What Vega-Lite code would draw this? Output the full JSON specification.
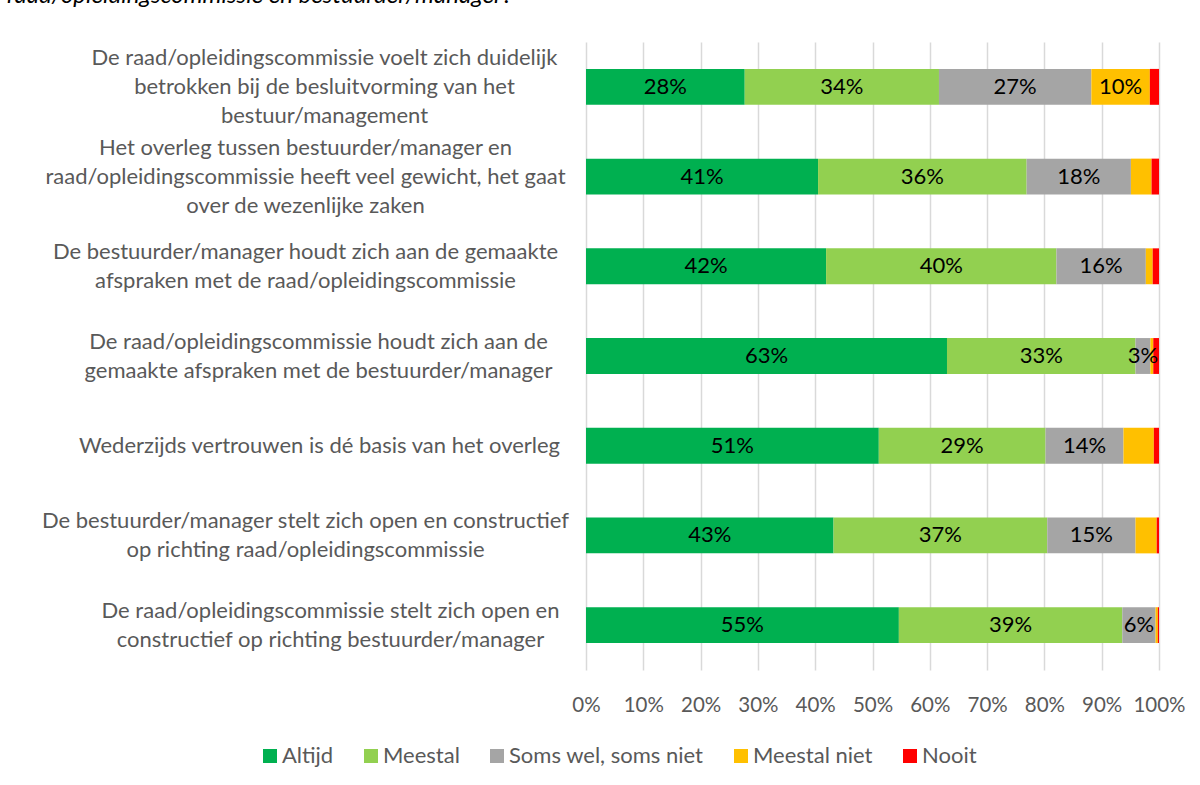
{
  "$schema": "https://vega.github.io/schema/vega-lite/v6.json",
  "width": 573,
  "height": 628,
  "autosize": {"type": "none"},
  "padding": {"left": 586, "top": 42, "right": 41, "bottom": 115},
  "background": "white",
  "title": {
    "text": "raad/opleidingscommissie en bestuurder/manager?",
    "anchor": "start",
    "frame": "group",
    "dx": -579,
    "offset": 10,
    "baseline": "bottom",
    "font": "Lato",
    "fontSize": 24,
    "fontStyle": "italic",
    "fontWeight": "normal",
    "color": "#000000"
  },
  "data": {
    "values": [
      {"q": "De raad/opleidingscommissie voelt zich duidelijk|betrokken bij de besluitvorming van het|bestuur/management", "r": "Altijd", "k": 1, "v": 0.277},
      {"q": "De raad/opleidingscommissie voelt zich duidelijk|betrokken bij de besluitvorming van het|bestuur/management", "r": "Meestal", "k": 2, "v": 0.339},
      {"q": "De raad/opleidingscommissie voelt zich duidelijk|betrokken bij de besluitvorming van het|bestuur/management", "r": "Soms wel, soms niet", "k": 3, "v": 0.266},
      {"q": "De raad/opleidingscommissie voelt zich duidelijk|betrokken bij de besluitvorming van het|bestuur/management", "r": "Meestal niet", "k": 4, "v": 0.102},
      {"q": "De raad/opleidingscommissie voelt zich duidelijk|betrokken bij de besluitvorming van het|bestuur/management", "r": "Nooit", "k": 5, "v": 0.016},
      {"q": "Het overleg tussen bestuurder/manager en|raad/opleidingscommissie heeft veel gewicht, het gaat|over de wezenlijke zaken", "r": "Altijd", "k": 1, "v": 0.405},
      {"q": "Het overleg tussen bestuurder/manager en|raad/opleidingscommissie heeft veel gewicht, het gaat|over de wezenlijke zaken", "r": "Meestal", "k": 2, "v": 0.364},
      {"q": "Het overleg tussen bestuurder/manager en|raad/opleidingscommissie heeft veel gewicht, het gaat|over de wezenlijke zaken", "r": "Soms wel, soms niet", "k": 3, "v": 0.182},
      {"q": "Het overleg tussen bestuurder/manager en|raad/opleidingscommissie heeft veel gewicht, het gaat|over de wezenlijke zaken", "r": "Meestal niet", "k": 4, "v": 0.036},
      {"q": "Het overleg tussen bestuurder/manager en|raad/opleidingscommissie heeft veel gewicht, het gaat|over de wezenlijke zaken", "r": "Nooit", "k": 5, "v": 0.013},
      {"q": "De bestuurder/manager houdt zich aan de gemaakte|afspraken met de raad/opleidingscommissie", "r": "Altijd", "k": 1, "v": 0.419},
      {"q": "De bestuurder/manager houdt zich aan de gemaakte|afspraken met de raad/opleidingscommissie", "r": "Meestal", "k": 2, "v": 0.402},
      {"q": "De bestuurder/manager houdt zich aan de gemaakte|afspraken met de raad/opleidingscommissie", "r": "Soms wel, soms niet", "k": 3, "v": 0.156},
      {"q": "De bestuurder/manager houdt zich aan de gemaakte|afspraken met de raad/opleidingscommissie", "r": "Meestal niet", "k": 4, "v": 0.012},
      {"q": "De bestuurder/manager houdt zich aan de gemaakte|afspraken met de raad/opleidingscommissie", "r": "Nooit", "k": 5, "v": 0.011},
      {"q": "De raad/opleidingscommissie houdt zich aan de|gemaakte afspraken met de bestuurder/manager", "r": "Altijd", "k": 1, "v": 0.630},
      {"q": "De raad/opleidingscommissie houdt zich aan de|gemaakte afspraken met de bestuurder/manager", "r": "Meestal", "k": 2, "v": 0.329},
      {"q": "De raad/opleidingscommissie houdt zich aan de|gemaakte afspraken met de bestuurder/manager", "r": "Soms wel, soms niet", "k": 3, "v": 0.026},
      {"q": "De raad/opleidingscommissie houdt zich aan de|gemaakte afspraken met de bestuurder/manager", "r": "Meestal niet", "k": 4, "v": 0.005},
      {"q": "De raad/opleidingscommissie houdt zich aan de|gemaakte afspraken met de bestuurder/manager", "r": "Nooit", "k": 5, "v": 0.010},
      {"q": "Wederzijds vertrouwen is dé basis van het overleg", "r": "Altijd", "k": 1, "v": 0.511},
      {"q": "Wederzijds vertrouwen is dé basis van het overleg", "r": "Meestal", "k": 2, "v": 0.291},
      {"q": "Wederzijds vertrouwen is dé basis van het overleg", "r": "Soms wel, soms niet", "k": 3, "v": 0.136},
      {"q": "Wederzijds vertrouwen is dé basis van het overleg", "r": "Meestal niet", "k": 4, "v": 0.053},
      {"q": "Wederzijds vertrouwen is dé basis van het overleg", "r": "Nooit", "k": 5, "v": 0.009},
      {"q": "De bestuurder/manager stelt zich open en constructief|op richting raad/opleidingscommissie", "r": "Altijd", "k": 1, "v": 0.432},
      {"q": "De bestuurder/manager stelt zich open en constructief|op richting raad/opleidingscommissie", "r": "Meestal", "k": 2, "v": 0.373},
      {"q": "De bestuurder/manager stelt zich open en constructief|op richting raad/opleidingscommissie", "r": "Soms wel, soms niet", "k": 3, "v": 0.154},
      {"q": "De bestuurder/manager stelt zich open en constructief|op richting raad/opleidingscommissie", "r": "Meestal niet", "k": 4, "v": 0.037},
      {"q": "De bestuurder/manager stelt zich open en constructief|op richting raad/opleidingscommissie", "r": "Nooit", "k": 5, "v": 0.004},
      {"q": "De raad/opleidingscommissie stelt zich open en|constructief op richting bestuurder/manager", "r": "Altijd", "k": 1, "v": 0.546},
      {"q": "De raad/opleidingscommissie stelt zich open en|constructief op richting bestuurder/manager", "r": "Meestal", "k": 2, "v": 0.390},
      {"q": "De raad/opleidingscommissie stelt zich open en|constructief op richting bestuurder/manager", "r": "Soms wel, soms niet", "k": 3, "v": 0.058},
      {"q": "De raad/opleidingscommissie stelt zich open en|constructief op richting bestuurder/manager", "r": "Meestal niet", "k": 4, "v": 0.004},
      {"q": "De raad/opleidingscommissie stelt zich open en|constructief op richting bestuurder/manager", "r": "Nooit", "k": 5, "v": 0.002}
    ]
  },
  "transform": [
    {"stack": "v", "groupby": ["q"], "sort": [{"field": "k", "order": "ascending"}], "as": ["v0", "v1"]},
    {"calculate": "(datum.v0 + datum.v1) / 2", "as": "mid"}
  ],
  "encoding": {
    "y": {
      "field": "q",
      "type": "nominal",
      "sort": null,
      "scale": {"paddingInner": 0.6, "paddingOuter": 0.3},
      "axis": {
        "title": null,
        "labelExpr": "split(datum.label, '|')",
        "labelAlign": "center",
        "labelPadding": {
          "condition": [
            {"test": "indexof(datum.value, 'voelt zich') >= 0", "value": 262},
            {"test": "indexof(datum.value, 'Het overleg') >= 0", "value": 281},
            {"test": "indexof(datum.value, 'manager houdt') >= 0", "value": 281},
            {"test": "indexof(datum.value, 'commissie houdt') >= 0", "value": 268},
            {"test": "indexof(datum.value, 'Wederzijds') >= 0", "value": 267},
            {"test": "indexof(datum.value, 'manager stelt') >= 0", "value": 281}
          ],
          "value": 256
        },
        "labelOffset": {
          "condition": [
            {"test": "length(split(datum.value, '|')) == 3", "value": -29},
            {"test": "length(split(datum.value, '|')) == 2", "value": -14.5}
          ],
          "value": 0
        },
        "labelLimit": 700,
        "labelFont": "Lato",
        "labelFontSize": 22,
        "labelColor": "#595959",
        "labelLineHeight": 29,
        "labelOverlap": false,
        "ticks": false,
        "domain": false,
        "grid": false
      }
    }
  },
  "layer": [
    {
      "mark": {"type": "bar"},
      "encoding": {
        "x": {
          "field": "v0",
          "type": "quantitative",
          "scale": {"domain": [0, 1]},
          "axis": {
            "title": null,
            "format": ".0%",
            "values": [0, 0.1, 0.2, 0.3, 0.4, 0.5, 0.6, 0.7, 0.8, 0.9, 1],
            "labelFont": "Lato",
            "labelFontSize": 20.5,
            "labelColor": "#595959",
            "labelPadding": 25,
            "labelOverlap": false,
            "labelFlush": false,
            "ticks": false,
            "domain": false,
            "grid": true,
            "gridColor": "#D9D9D9",
            "gridWidth": 1.5
          }
        },
        "x2": {"field": "v1"},
        "color": {
          "field": "r",
          "type": "nominal",
          "sort": ["Altijd", "Meestal", "Soms wel, soms niet", "Meestal niet", "Nooit"],
          "scale": {
            "domain": ["Altijd", "Meestal", "Soms wel, soms niet", "Meestal niet", "Nooit"],
            "range": ["#00B050", "#92D050", "#A5A5A5", "#FFC000", "#FF0000"]
          },
          "legend": {
            "title": null,
            "orient": "none",
            "direction": "horizontal",
            "legendX": -327,
            "legendY": 703,
            "symbolType": "square",
            "symbolSize": 196,
            "symbolStrokeWidth": 0,
            "labelFont": "Lato",
            "labelFontSize": 22,
            "labelColor": "#595959",
            "columnPadding": 26,
            "labelOffset": 1,
            "labelLimit": 400
          }
        }
      }
    },
    {
      "transform": [{"filter": "datum.v >= 0.09 || datum.r == 'Soms wel, soms niet'"}],
      "mark": {"type": "text", "font": "Lato", "fontSize": 22, "color": "#000000", "baseline": "middle", "align": "center"},
      "encoding": {
        "x": {"field": "mid", "type": "quantitative"},
        "text": {"field": "v", "type": "quantitative", "format": ".0%"}
      }
    }
  ],
  "config": {
    "view": {"stroke": null}
  }
}
